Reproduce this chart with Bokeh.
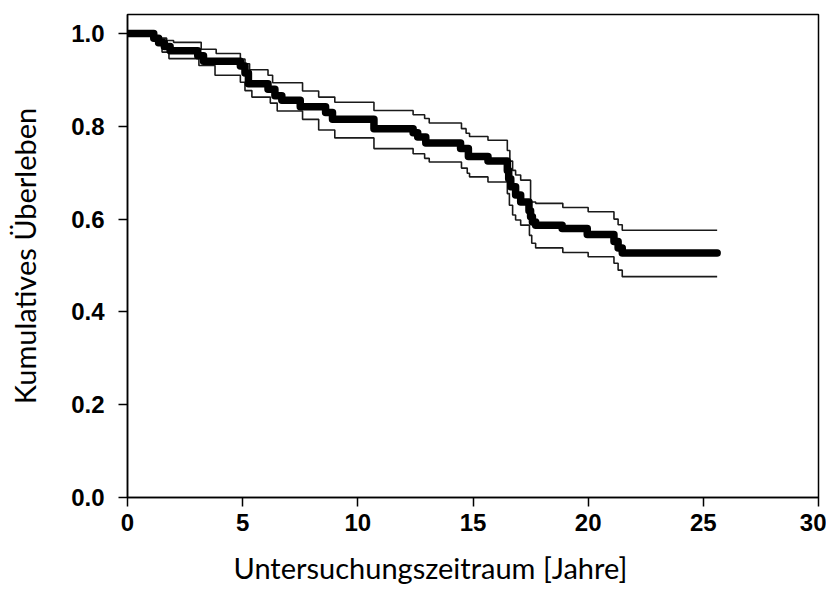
from bokeh.plotting import figure
from bokeh.models import Range1d, FixedTicker, NumeralTickFormatter, Title
from bokeh.embed import file_html
from bokeh.resources import INLINE

# Kaplan-Meier estimate (step after each event time)
km_time = [0, 1.14, 1.35, 1.6, 1.85, 3.05, 3.3, 4.9, 5.1, 5.25, 6.1, 6.4, 6.7, 7.5, 8.6, 8.9,
           10.7, 12.4, 12.6, 12.95, 14.46, 14.8, 15.65, 16.49, 16.55, 16.64, 16.85, 17.07,
           17.43, 17.5, 17.58, 17.72, 18.87, 19.96, 21.12, 21.3, 21.48, 25.6]
km_surv = [1.0, 0.99, 0.98, 0.972, 0.963, 0.952, 0.94, 0.93, 0.915, 0.892, 0.88, 0.866, 0.856,
           0.842, 0.83, 0.815, 0.795, 0.786, 0.777, 0.764, 0.752, 0.735, 0.725, 0.705, 0.687,
           0.67, 0.652, 0.637, 0.618, 0.605, 0.594, 0.587, 0.58, 0.567, 0.552, 0.538, 0.527, 0.527]

# Upper confidence limit
up_time = [0, 1.2, 1.4, 1.7, 2.0, 3.2, 3.85, 4.9, 5.1, 5.3, 6.1, 6.3, 7.6, 8.3, 9.0, 10.7,
           12.4, 12.9, 13.1, 14.5, 14.7, 14.85, 15.65, 16.49, 16.6, 16.72, 16.85, 17.07, 17.5,
           17.72, 18.9, 20.0, 21.12, 21.3, 21.48, 25.6]
up_surv = [1.0, 0.995, 0.99, 0.985, 0.981, 0.966, 0.957, 0.945, 0.935, 0.922, 0.91, 0.894, 0.876,
           0.863, 0.852, 0.834, 0.825, 0.817, 0.807, 0.795, 0.785, 0.778, 0.770, 0.748, 0.725,
           0.705, 0.695, 0.684, 0.637, 0.634, 0.625, 0.616, 0.60, 0.588, 0.576, 0.576]

# Lower confidence limit
lo_time = [0, 1.14, 1.3, 1.5, 1.8, 3.1, 3.8, 4.9, 5.1, 5.4, 6.2, 6.5, 7.6, 8.3, 9.0, 10.7,
           12.4, 12.9, 13.1, 14.5, 14.75, 14.85, 15.65, 16.49, 16.58, 16.72, 16.85, 17.07,
           17.45, 17.55, 17.72, 18.9, 20.0, 21.12, 21.3, 21.48, 25.6]
lo_surv = [1.0, 0.99, 0.975, 0.96, 0.946, 0.931, 0.91, 0.895, 0.877, 0.863, 0.85, 0.833, 0.815,
           0.792, 0.775, 0.752, 0.741, 0.731, 0.723, 0.71, 0.699, 0.691, 0.680, 0.655, 0.630,
           0.609, 0.598, 0.587, 0.565, 0.548, 0.538, 0.528, 0.519, 0.505, 0.49, 0.476, 0.476]

x_ticks = [0, 5, 10, 15, 20, 25, 30]
y_ticks = [0.0, 0.2, 0.4, 0.6, 0.8, 1.0]
x_title = "Untersuchungszeitraum [Jahre]"
y_title = "Kumulatives Überleben"

p = figure(width=826, height=598, output_backend="svg", toolbar_location=None,
           x_range=Range1d(0, 30), y_range=Range1d(0, 1.041),
           min_border_left=127, min_border_right=8, min_border_top=14, min_border_bottom=100)

p.step(lo_time, lo_surv, mode="after", line_color="#1a1a1a", line_width=1.6)
p.step(up_time, up_surv, mode="after", line_color="#1a1a1a", line_width=1.6)
p.step(km_time, km_surv, mode="after", line_color="black", line_width=7.5,
       line_cap="round", line_join="round")

p.grid.visible = False
p.outline_line_color = "black"
p.outline_line_width = 1.5
p.background_fill_color = "white"
p.border_fill_color = "white"

for ax in (p.xaxis[0], p.yaxis[0]):
    ax.axis_line_color = "black"
    ax.axis_line_width = 1.5
    ax.major_tick_line_color = "black"
    ax.major_tick_line_width = 1.5
    ax.major_tick_out = 9
    ax.major_tick_in = 0
    ax.minor_tick_line_color = None
    ax.major_label_text_font = "Liberation Sans"
    ax.major_label_text_font_style = "bold"
    ax.major_label_text_font_size = "24px"
    ax.major_label_text_color = "black"
    ax.axis_label_text_font = "Lato"
    ax.axis_label_text_font_style = "normal"
    ax.axis_label_text_font_size = "29px"
    ax.axis_label_text_color = "black"

p.xaxis[0].ticker = FixedTicker(ticks=x_ticks)
p.yaxis[0].ticker = FixedTicker(ticks=y_ticks)
p.yaxis[0].formatter = NumeralTickFormatter(format="0.0")
p.yaxis[0].axis_label = y_title
p.xaxis[0].major_label_standoff = 7
p.yaxis[0].major_label_standoff = 14
p.yaxis[0].axis_label_standoff = 26

xt = Title(text=x_title, align="left", offset=106, standoff=28,
           text_font="Lato", text_font_style="normal", text_font_size="29px",
           text_color="black")
p.add_layout(xt, "below")

open("out.html", "w").write(file_html(p, INLINE))
